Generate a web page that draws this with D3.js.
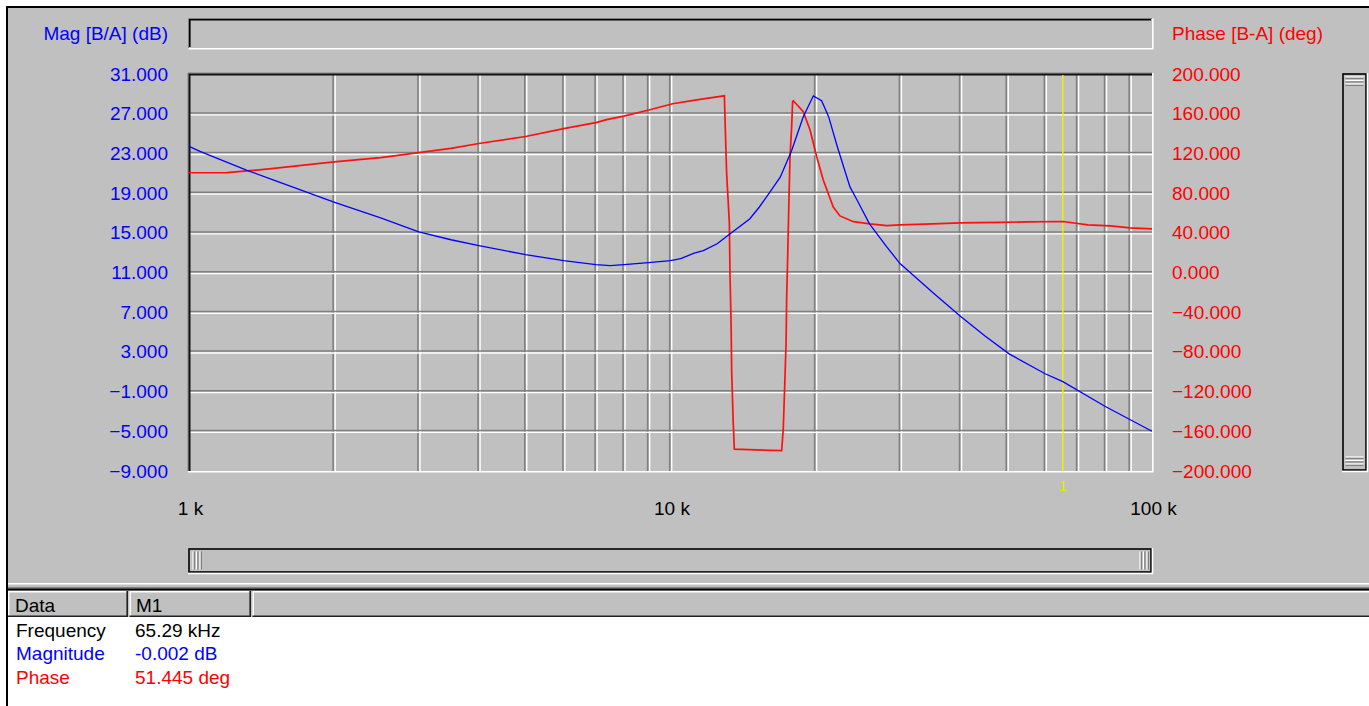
<!DOCTYPE html>
<html>
<head>
<meta charset="utf-8">
<script src="https://cdn.jsdelivr.net/npm/d3@7"></script>
<style>
  body { margin: 0; background: #fff; }
  text { font-family: "Liberation Sans", Arial, sans-serif; font-size: 19px; }
</style>
</head>
<body>
<svg id="chart"></svg>
<script>
// magnitude trace
const magFreq = [1000, 1054, 1320, 1500, 2000, 2500, 3000, 3500, 4000, 5000, 6000, 7000, 7500, 8000, 9000, 10000, 10500, 11200, 11700, 12500, 13300, 14600, 15300, 16300, 16900, 17850, 18870, 19800, 20600, 21300, 22200, 22900, 23600, 24400, 25900, 28100, 29970, 35000, 40000, 45000, 50500, 60000, 65290, 80000, 100000]
const magDb = [23.7, 23.2, 21.3, 20.3, 18.1, 16.5, 15.1, 14.3, 13.7, 12.8, 12.2, 11.8, 11.7, 11.8, 12.0, 12.2, 12.4, 12.95, 13.2, 13.9, 14.9, 16.4, 17.6, 19.5, 20.6, 23.3, 26.7, 28.8, 28.3, 26.7, 23.7, 21.6, 19.6, 18.3, 15.9, 13.6, 11.9, 9.0, 6.6, 4.6, 2.8, 0.8, 0.0, -2.5, -5.0]

// phase trace
const phFreq = [1000, 1200, 1320, 1500, 2000, 2500, 3000, 3500, 4000, 5000, 6000, 7000, 7370, 8000, 9060, 10100, 11000, 11700, 12940, 12980, 13080, 13250, 13290, 13360, 13400, 13500, 13570, 17020, 17150, 17290, 17380, 17430, 17520, 17600, 17710, 17850, 17930, 17990, 18870, 19490, 20120, 20770, 21780, 22490, 23980, 25960, 28120, 29970, 35000, 40000, 48500, 55000, 65290, 73600, 82000, 90000, 100000]
const phDeg = [100.5, 100.6, 102.3, 105, 111.5, 115.7, 120.7, 125, 130, 137, 145, 151, 154, 157.5, 164, 170, 173, 175, 178, 153.6, 100, 50, -0.5, -51, -101, -152, -178, -179.5, -157, -105, -71, -24.4, 19.3, 63, 116.7, 147, 172, 173, 162, 143.6, 116.7, 93, 66, 57, 51.2, 49, 47.2, 48, 49, 50, 50.6, 51, 51.4, 48, 47, 45, 44]

const magTicks = [31, 27, 23, 19, 15, 11, 7, 3, -1, -5, -9]
const phTicks = [200, 160, 120, 80, 40, 0, -40, -80, -120, -160, -200]
const freqTicks = [1000, 10000, 100000]
const freqLabels = ["1 k", "10 k", "100 k"]

const markerFreq = 65290
const readoutNames = ["Frequency", "Magnitude", "Phase"]
const readoutValues = ["65.29 kHz", "-0.002 dB", "51.445 deg"]
const readoutColors = ["#000", "#0000ff", "#ff0000"]

const W = 1369, H = 706
const pL = 189, pR = 1152, pT = 74, pB = 471
const grey = "#c0c0c0", dark = "#808080"

const svg = d3.select("#chart").attr("width", W).attr("height", H)

const x = d3.scaleLog().domain([1000, 100000]).range([pL, pR])
const yMag = d3.scaleLinear().domain([-9, 31]).range([pB, pT])
const yPh = d3.scaleLinear().domain([-200, 200]).range([pB, pT])

// window body
svg.append("rect").attr("x", 6).attr("y", 6).attr("width", W - 6).attr("height", 611).attr("fill", grey)
svg.append("rect").attr("x", 6).attr("y", 6).attr("width", W - 6).attr("height", 2).attr("fill", "#000")
svg.append("rect").attr("x", 6).attr("y", 6).attr("width", 2).attr("height", H - 6).attr("fill", "#000")

// sunken box helper (dark top/left, white bottom/right)
function sunken(x0, y0, x1, y1) {
  svg.append("rect").attr("x", x0).attr("y", y0).attr("width", x1 - x0).attr("height", y1 - y0).attr("fill", grey)
  svg.append("path").attr("d", `M${x0 - 0.5},${y1} V${y0 - 0.5} H${x1}`).attr("fill", "none").attr("stroke", dark).attr("stroke-width", 1)
  svg.append("path").attr("d", `M${x0 + 0.8},${y1 - 1} V${y0 + 0.8} H${x1 - 1}`).attr("fill", "none").attr("stroke", "#000").attr("stroke-width", 1.6)
  svg.append("path").attr("d", `M${x0 - 0.5},${y1 + 0.8} H${x1 + 0.8} V${y0 - 0.5}`).attr("fill", "none").attr("stroke", "#fff").attr("stroke-width", 1.6)
}

// title strip above the plot
sunken(pL, 19, pR, 48)

// plot area
svg.append("rect").attr("x", pL).attr("y", pT).attr("width", pR - pL).attr("height", pB - pT).attr("fill", grey)

// grid: grey groove + white highlight
const gridF = x.ticks().filter(f => f > 1000 && f < 100000)
const g = svg.append("g")
g.selectAll(".vg").data(gridF).enter().append("line")
  .attr("x1", d => x(d) - 0.8).attr("x2", d => x(d) - 0.8)
  .attr("y1", pT).attr("y2", pB)
  .attr("stroke", dark).attr("stroke-width", 1.6)
g.selectAll(".vw").data(gridF).enter().append("line")
  .attr("x1", d => x(d) + 1.2).attr("x2", d => x(d) + 1.2)
  .attr("y1", pT).attr("y2", pB)
  .attr("stroke", "#fff").attr("stroke-width", 1.4)
const gridY = magTicks.filter(v => v > -9 && v < 31)
g.selectAll(".hg").data(gridY).enter().append("line")
  .attr("x1", pL).attr("x2", pR)
  .attr("y1", d => yMag(d) - 0.8).attr("y2", d => yMag(d) - 0.8)
  .attr("stroke", dark).attr("stroke-width", 1.5)
g.selectAll(".hw").data(gridY).enter().append("line")
  .attr("x1", pL).attr("x2", pR)
  .attr("y1", d => yMag(d) + 1.1).attr("y2", d => yMag(d) + 1.1)
  .attr("stroke", "#fff").attr("stroke-width", 1.3)

// plot frame
svg.append("path").attr("d", `M${pL - 1},${pB} V${pT - 1} H${pR}`).attr("fill", "none").attr("stroke", dark).attr("stroke-width", 1)
svg.append("path").attr("d", `M${pL + 0.5},${pB} V${pT + 0.5} H${pR}`).attr("fill", "none").attr("stroke", "#111").attr("stroke-width", 2)
svg.append("path").attr("d", `M${pL - 1},${pB + 0.8} H${pR + 0.8} V${pT - 1}`).attr("fill", "none").attr("stroke", "#fff").attr("stroke-width", 1.6)

// marker
svg.append("line").attr("x1", x(markerFreq)).attr("x2", x(markerFreq))
  .attr("y1", pT + 1).attr("y2", pB).attr("stroke", "#f0f000").attr("stroke-width", 1.4)
svg.append("text").attr("x", x(markerFreq)).attr("y", 486).attr("dy", "0.35em")
  .attr("text-anchor", "middle").attr("fill", "#e8e800").style("font-size", "14px").text("1")

// traces
const plot = svg.append("g")
plot.append("path")
  .datum(phFreq.map((f, i) => [f, phDeg[i]]))
  .attr("fill", "none").attr("stroke", "#ff1010").attr("stroke-width", 1.7)
  .attr("d", d3.line().x(d => x(d[0])).y(d => yPh(d[1])))
plot.append("path")
  .datum(magFreq.map((f, i) => [f, magDb[i]]))
  .attr("fill", "none").attr("stroke", "#0000ff").attr("stroke-width", 1.3)
  .attr("d", d3.line().x(d => x(d[0])).y(d => yMag(d[1])))

// axes (labels only)
const axL = svg.append("g").attr("transform", "translate(168,0)")
  .call(d3.axisLeft(yMag).tickValues(magTicks).tickFormat(d3.format(".3f")).tickSize(0).tickPadding(0))
const axR = svg.append("g").attr("transform", "translate(1172,0)")
  .call(d3.axisRight(yPh).tickValues(phTicks).tickFormat(d3.format(".3f")).tickSize(0).tickPadding(0))
const axB = svg.append("g").attr("transform", "translate(1,501)")
  .call(d3.axisBottom(x).tickValues(freqTicks).tickFormat((d, i) => freqLabels[i]).tickSize(0).tickPadding(0))
;[axL, axR, axB].forEach(a => {
  a.select(".domain").remove()
  a.selectAll("text").style("font-family", "'Liberation Sans', Arial, sans-serif").style("font-size", "19px")
})
axL.selectAll("text").attr("fill", "#0000ff")
axR.selectAll("text").attr("fill", "#ff0000")
axB.selectAll("text").attr("fill", "#000")

// axis titles
svg.append("text").attr("x", 168).attr("y", 33).attr("dy", "0.35em").attr("text-anchor", "end")
  .attr("fill", "#0000ff").text("Mag [B/A] (dB)")
svg.append("text").attr("x", 1172).attr("y", 33).attr("dy", "0.35em")
  .attr("fill", "#ff0000").text("Phase [B-A] (deg)")

// scroll bars
function grip(x0, y0, x1, y1) {
  svg.append("rect").attr("x", x0).attr("y", y0).attr("width", x1 - x0).attr("height", y1 - y0)
    .attr("fill", grey).attr("stroke", "#000").attr("stroke-width", 1.6)
  svg.append("path").attr("d", `M${x0 - 1},${y1 + 1.5} H${x1 + 1.5} V${y0 - 1}`).attr("fill", "none").attr("stroke", "#fff").attr("stroke-width", 1.5)
}
grip(189, 549, 1151, 572)
;[193, 196.5, 200, 1140, 1143.5, 1147].forEach(gx => {
  svg.append("line").attr("x1", gx).attr("x2", gx).attr("y1", 551.5).attr("y2", 569.5).attr("stroke", "#fff").attr("stroke-width", 1.2)
  svg.append("line").attr("x1", gx + 1.4).attr("x2", gx + 1.4).attr("y1", 551.5).attr("y2", 569.5).attr("stroke", dark).attr("stroke-width", 1.2)
})
grip(1343, 74, 1366, 470)
;[77, 80.5, 84, 457, 460.5, 464].forEach(gy => {
  svg.append("line").attr("y1", gy).attr("y2", gy).attr("x1", 1345.5).attr("x2", 1363.5).attr("stroke", "#fff").attr("stroke-width", 1.2)
  svg.append("line").attr("y1", gy + 1.4).attr("y2", gy + 1.4).attr("x1", 1345.5).attr("x2", 1363.5).attr("stroke", dark).attr("stroke-width", 1.2)
})

// separator
svg.append("rect").attr("x", 8).attr("y", 583).attr("width", W - 8).attr("height", 1.5).attr("fill", "#fff")
svg.append("rect").attr("x", 8).attr("y", 587).attr("width", W - 8).attr("height", 1.5).attr("fill", dark)
svg.append("rect").attr("x", 8).attr("y", 588.5).attr("width", W - 8).attr("height", 2).attr("fill", "#000")

// data table header
const cols = [[8, 128], [129.5, 251], [252.5, W + 2]]
cols.forEach(c => {
  svg.append("path").attr("d", `M${c[0] + 0.7},616 V591.7 H${c[1]}`).attr("fill", "none").attr("stroke", "#fff").attr("stroke-width", 1.4)
  svg.append("path").attr("d", `M${c[0]},616.2 H${c[1] - 0.8} V591`).attr("fill", "none").attr("stroke", "#222").attr("stroke-width", 1.6)
})
svg.append("rect").attr("x", 8).attr("y", 617).attr("width", W - 8).attr("height", H - 617).attr("fill", "#fff")
svg.append("text").attr("x", 15).attr("y", 605).attr("dy", "0.35em").attr("fill", "#000").text("Data")
svg.append("text").attr("x", 136).attr("y", 605).attr("dy", "0.35em").attr("fill", "#000").text("M1")

const rows = svg.selectAll(".row").data(readoutNames).enter().append("g")
  .attr("transform", (d, i) => `translate(0,${630 + i * 23.5})`)
rows.append("text").attr("x", 16).attr("dy", "0.35em").attr("fill", (d, i) => readoutColors[i]).text(d => d)
rows.append("text").attr("x", 135).attr("dy", "0.35em").attr("fill", (d, i) => readoutColors[i]).text((d, i) => readoutValues[i])
</script>
</body>
</html>
